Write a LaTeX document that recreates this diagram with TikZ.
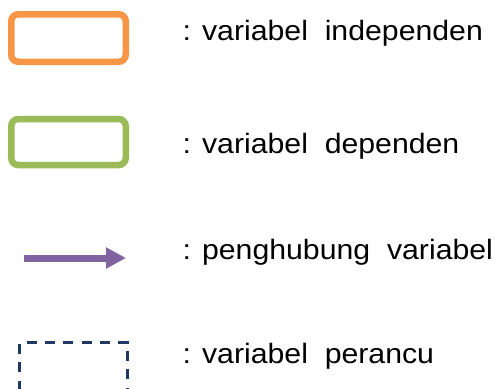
\documentclass[tikz,border=0pt]{standalone}
\usepackage{fontspec}
\setmainfont[FakeStretch=1.08]{Liberation Sans}
\usetikzlibrary{arrows.meta}
\definecolor{cOrange}{HTML}{F79646}
\definecolor{cGreen}{HTML}{9BBB59}
\definecolor{cPurple}{HTML}{8064A2}
\definecolor{cNavy}{HTML}{1F3864}
\tikzset{
  legbox/.style={draw, rectangle, rounded corners=7pt, line width=6.5pt,
    minimum width=114.5pt, inner sep=0pt, outer sep=0pt},
  indbox/.style={legbox, draw=cOrange, minimum height=47.5pt},
  depbox/.style={legbox, draw=cGreen, minimum height=46pt},
  conn/.style={draw=cPurple, line width=7pt,
    -{Triangle[length=20pt,width=20pt]}, color=cPurple},
  confbox/.style={draw=cNavy, line width=3pt, dash pattern=on 10pt off 8.3pt, dash phase=8.9pt},
  legtext/.style={anchor=base west, inner sep=0pt, outer sep=0pt,
    font=\fontsize{28}{33}\selectfont, text=black}
}
\begin{document}
\begin{tikzpicture}[x=1pt,y=-1pt]
\useasboundingbox (0,0) rectangle (500,388);
\clip (0,0) rectangle (500,388);
\node[indbox] (ind) at (68.5,38) {};
\node[depbox] (dep) at (68.5,142) {};
\coordinate (a1) at (24,258);
\coordinate (a2) at (126,258);
\draw[conn] (a1) -- (a2);
\draw[confbox] (19.8,400) -- (19.8,342.5) -- (127.8,342.5) -- (127.8,400);
\node[legtext] (t1) at (182.5,40) {: variabel\ \ independen};
\node[legtext] (t2) at (182.5,153) {: variabel\ \ dependen};
\node[legtext] (t3) at (182.5,259) {: penghubung\ \ variabel};
\node[legtext] (t4) at (182.5,363) {: variabel\ \ perancu};
\end{tikzpicture}
\end{document}
